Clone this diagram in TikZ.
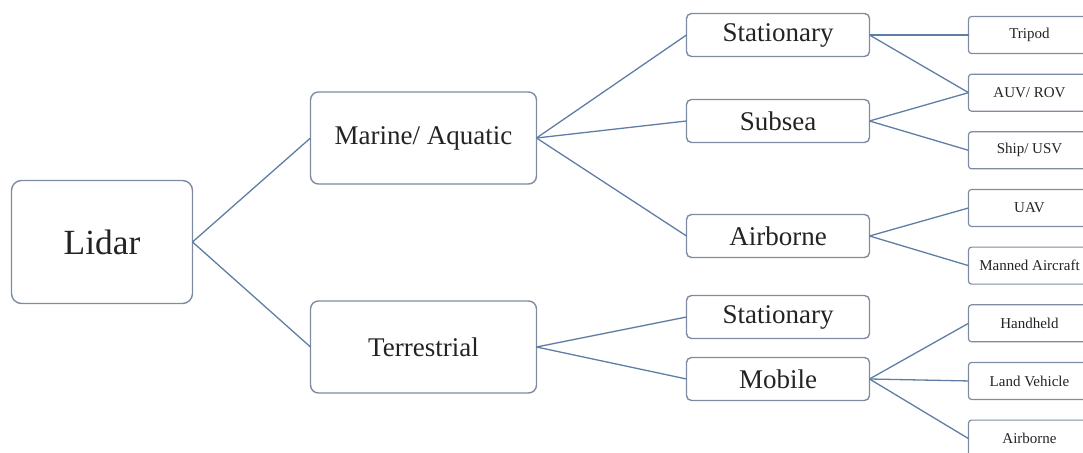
\documentclass[tikz,border=0pt]{standalone}
\usepackage{fontspec}
\setmainfont{Liberation Serif}
\usepackage{xcolor}
\usetikzlibrary{positioning}

\definecolor{boxgray}{RGB}{125,140,160}
\definecolor{linkblue}{RGB}{95,125,165}
\definecolor{textdark}{RGB}{35,35,35}

\begin{document}
\begin{tikzpicture}[
    node distance=10.33pt and 49.5pt,
    root/.style={draw=boxgray, line width=0.7pt, rounded corners=5pt, inner sep=0pt, outer sep=0pt, align=center, text=textdark, minimum width=90.5pt, minimum height=61.5pt, font=\fontsize{17.7}{20}\selectfont},
    cat/.style={draw=boxgray, line width=0.7pt, rounded corners=4pt, inner sep=0pt, outer sep=0pt, align=center, text=textdark, minimum width=113pt, minimum height=46pt, font=\fontsize{13.5}{16}\selectfont},
    sub/.style={draw=boxgray, line width=0.7pt, rounded corners=2.5pt, inner sep=0pt, outer sep=0pt, align=center, text=textdark, minimum width=91.5pt, minimum height=21.5pt, font=\fontsize{13.5}{16}\selectfont},
    leaf/.style={draw=boxgray, line width=0.6pt, rounded corners=1.5pt, inner sep=0pt, outer sep=0pt, align=center, text=textdark, minimum width=61pt, minimum height=18.5pt, font=\fontsize{7.5}{9}\selectfont},
    link/.style={draw=linkblue, line width=0.65pt}
]
\useasboundingbox (0,0) rectangle (541.5pt,-226.5pt);

\node[root] (lidar) at (51pt,-121pt) {Lidar};

\node[cat, right=59pt of lidar, yshift=52pt] (marine) {Marine/ Aquatic};
\node[cat, right=59pt of lidar, yshift=-52.5pt] (terr) {Terrestrial};

\node[sub, right=75pt of marine, yshift=51.5pt] (mstat) {Stationary};
\node[sub, below=21.5pt of mstat] (subsea) {Subsea};
\node[sub, below=36pt of subsea] (mair) {Airborne};
\node[sub, below=19pt of mair] (tstat) {Stationary};
\node[sub, below=9.5pt of tstat] (mobile) {Mobile};

\node[leaf, right=of mstat] (tripod) {Tripod};
\node[leaf, below=of tripod] (auv) {AUV/ ROV};
\node[leaf, below=of auv] (ship) {Ship/ USV};
\node[leaf, below=of ship] (uav) {UAV};
\node[leaf, below=of uav] (manned) {Manned Aircraft};
\node[leaf, below=of manned] (hand) {Handheld};
\node[leaf, below=of hand] (land) {Land Vehicle};
\node[leaf, below=of land] (lair) {Airborne};

\draw[link] (lidar.east) -- (marine.west);
\draw[link] (lidar.east) -- (terr.west);

\draw[link] (marine.east) -- (mstat.west);
\draw[link] (marine.east) -- (subsea.west);
\draw[link] (marine.east) -- (mair.west);
\draw[link] (terr.east) -- (tstat.west);
\draw[link] (terr.east) -- (mobile.west);

\draw[link] (mstat.east) -- (tripod.west);
\draw[link] (mstat.east) -- (auv.west);
\draw[link] (subsea.east) -- (auv.west);
\draw[link] (subsea.east) -- (ship.west);
\draw[link] (mair.east) -- (uav.west);
\draw[link] (mair.east) -- (manned.west);
\draw[link] (mobile.east) -- (hand.west);
\draw[link] (mobile.east) -- (land.west);
\draw[link] (mobile.east) -- (lair.west);
\end{tikzpicture}
\end{document}
